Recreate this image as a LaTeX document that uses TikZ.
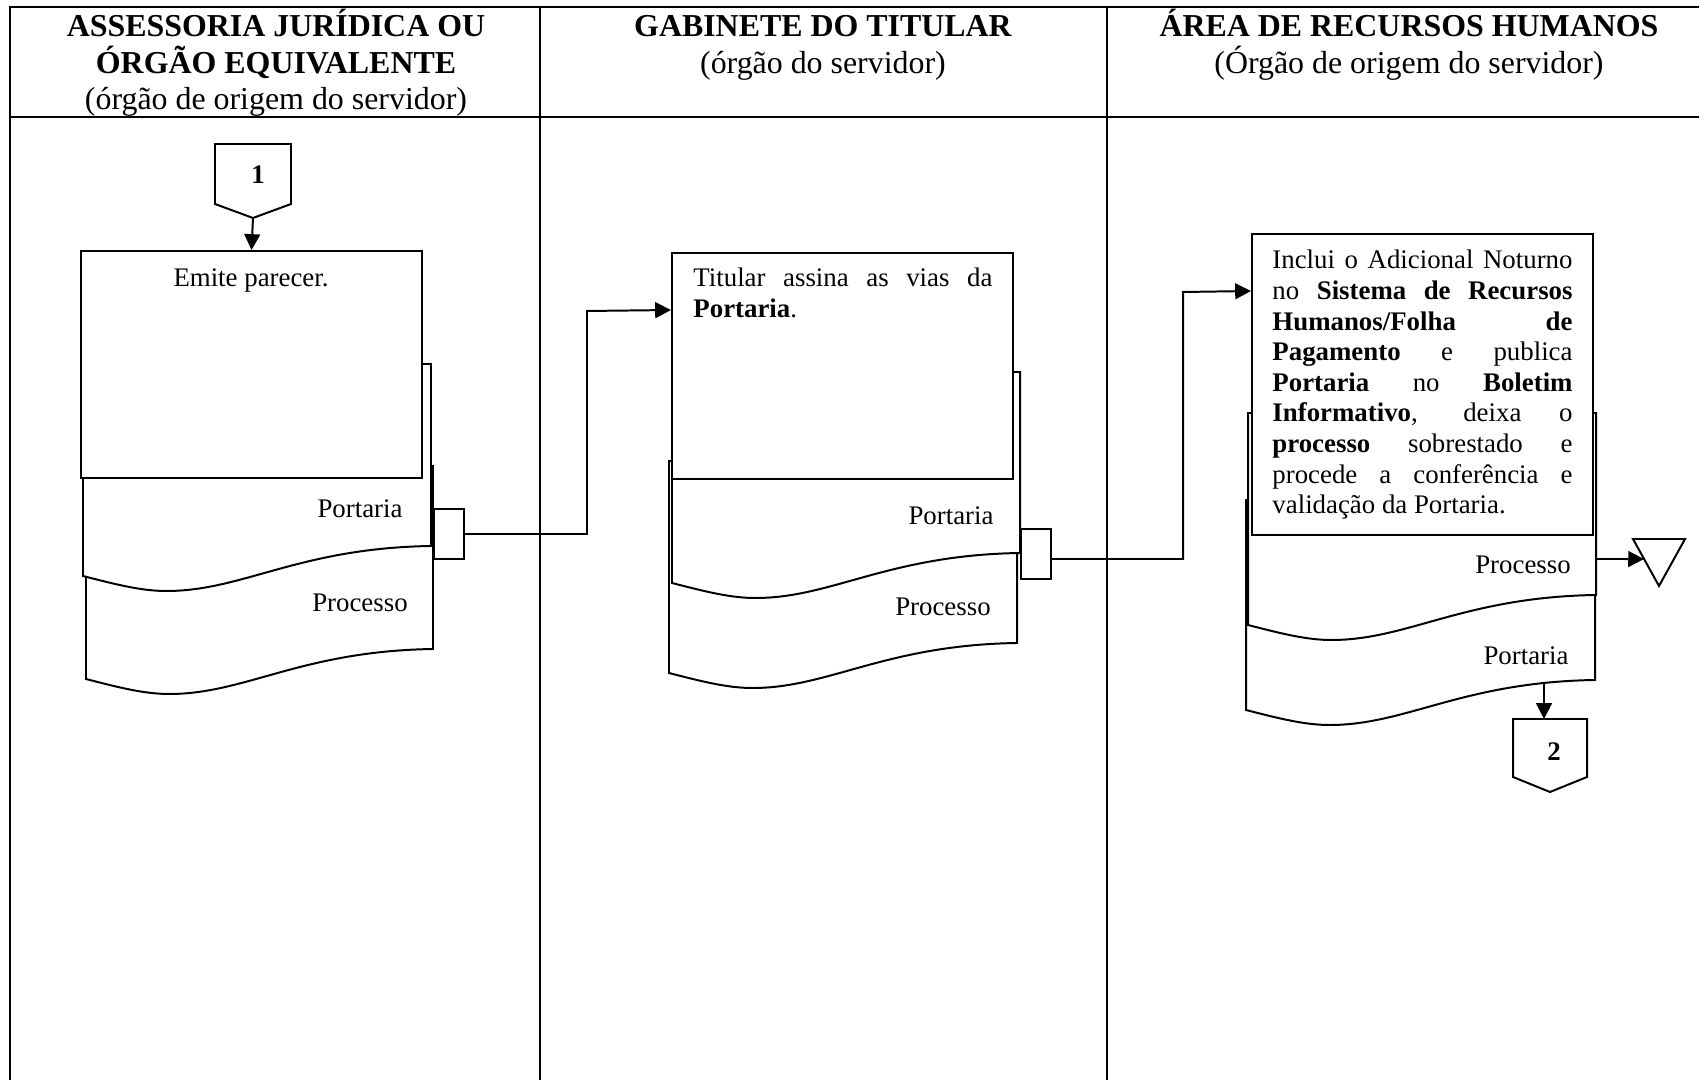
\documentclass[tikz,border=0pt]{standalone}
\usepackage{fontspec}
\setmainfont{Liberation Serif}
\usetikzlibrary{arrows.meta,calc,fit}
% stretched (justified) line of given text
\newcommand\jl[1]{\makebox[\linewidth][s]{#1}}
% document symbol with wavy bottom: left, top, right, left-bottom y
\newcommand\docpath[4]{(#1,#2) -- (#3,#2) -- (#3,{#4-30})
  .. controls ({#1+0.62*(#3-#1)},{#4-28}) and ({#1+0.46*(#3-#1)},{#4+15}) .. ({#1+0.24*(#3-#1)},{#4+15})
  .. controls ({#1+0.17*(#3-#1)},{#4+15}) and ({#1+0.1*(#3-#1)},{#4+9}) .. (#1,#4) -- cycle}
\begin{document}
\begin{tikzpicture}[x=0.4545pt,y=-0.4545pt,
  tline/.style={line width=1.35pt},
  shp/.style={draw,line width=0.9pt,fill=white,line join=miter},
  boxn/.style={draw,line width=0.9pt,fill=white,inner sep=0pt},
  arr/.style={line width=0.9pt,-{Triangle[length=7.2pt,width=7.2pt]}},
  body/.style={font=\fontsize{12.2}{13.9}\selectfont,inner sep=0pt},
  head/.style={font=\fontsize{14.5}{16.5}\selectfont,inner sep=0pt,anchor=base},
]
\useasboundingbox (0,0) rectangle (1699,1080);
\fill[white] (0,0) rectangle (1699,1080);
\clip (0,0) rectangle (1699,1080);

% swimlane table
\draw[tline] (1720,7) -- (10,7) -- (10,1090);
\draw[tline] (10,117) -- (1720,117);
\draw[tline] (540,7) -- (540,1090);
\draw[tline] (1107,7) -- (1107,1090);

% lane headers
\node[head] (h1) at (276,37) {\parbox[t]{300pt}{\centering\bfseries ASSESSORIA JURÍDICA OU\\ÓRGÃO EQUIVALENTE\\\mdseries(órgão de origem do servidor)}};
\node[head] (h2) at (823,37) {\parbox[t]{300pt}{\centering\bfseries GABINETE DO TITULAR\\\mdseries(órgão do servidor)}};
\node[head] (h3) at (1409,37) {\parbox[t]{300pt}{\centering\bfseries ÁREA DE RECURSOS HUMANOS\\\mdseries(Órgão de origem do servidor)}};

% ---- lane 1 ----
\draw[shp] (215,144) -- (291,144) -- (291,204) -- (253,218) -- (215,204) -- cycle;
\coordinate (c1tip) at (253,218);
\node[body] (c1) at (258,175) {\bfseries 1};

\draw[shp] \docpath{86}{466}{433}{679};
\draw[shp] \docpath{83}{364}{431}{576};
\node[boxn, fit={(81,251) (422,478)}] (b1) {};
\node[body,anchor=base] (t1) at (251,287) {Emite parecer.};
\node[body] (l1a) at (360,509) {Portaria};
\node[body] (l1b) at (360,603) {Processo};
\node[boxn, fit={(434,509) (464,559)}] (br1) {};

\draw[arr] (c1tip) -- (b1.north);

% ---- lane 2 ----
\draw[shp] \docpath{669}{461}{1017}{673};
\draw[shp] \docpath{672}{372}{1020}{583};
\node[boxn, fit={(672,253) (1013,479)}] (b2) {};
\node[body,anchor=base west] (t2) at (693,287) {\parbox[t]{135.9pt}{\jl{Titular assina as vias da}\\\textbf{Portaria}.}};
\node[body] (l2a) at (951,516) {Portaria};
\node[body] (l2b) at (943,607) {Processo};
\node[boxn, fit={(1021,529) (1051,579)}] (br2) {};

\draw[arr] (br1.east) -- (587,534) -- (587,311) -- ($(b2.north west)+(0,58)$);

% ---- lane 3 ----
\draw[shp] \docpath{1246}{500}{1595}{710};
\draw[shp] \docpath{1248}{413}{1596}{625};
\node[boxn, fit={(1252,234) (1593,535)}] (b3) {};
\node[body,anchor=base west] (t3) at (1272,269) {\parbox[t]{136.4pt}{%
\jl{Inclui o Adicional Noturno}\\
\jl{no \textbf{Sistema de Recursos}}\\
\jl{\textbf{Humanos/Folha de}}\\
\jl{\textbf{Pagamento} e publica}\\
\jl{\textbf{Portaria} no \textbf{Boletim}}\\
\jl{\textbf{Informativo}, deixa o}\\
\jl{\textbf{processo} sobrestado e}\\
\jl{procede a conferência e}\\
validação da Portaria.}};
\node[body] (l3a) at (1523,565) {Processo};
\node[body] (l3b) at (1526,656) {Portaria};

\draw[arr] ($(br2.east)+(0,5)$) -- (1183,559) -- (1183,292) -- ($(b3.north west)+(0,58)$);

% archive triangle
\coordinate (m1) at (1633,539);
\coordinate (m2) at (1685,539);
\coordinate (m3) at (1659,586);
\draw[shp] (m1) -- (m2) -- (m3) -- cycle;
\coordinate (p3out) at (1596,559);
\draw[arr] (p3out) -- ($(m1)!0.426!(m3)$);

% off-page connector 2
\draw[shp] (1513,719) -- (1587,719) -- (1587,777) -- (1550,792) -- (1513,777) -- cycle;
\coordinate (c2top) at (1544,719);
\coordinate (d3out) at (1544,683);
\node[body] (c2) at (1554,752) {\bfseries 2};
\draw[arr] (d3out) -- (c2top);
\end{tikzpicture}
\end{document}
